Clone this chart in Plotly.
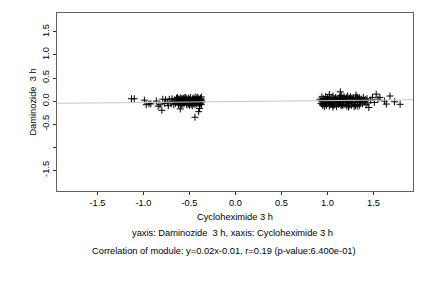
import plotly.graph_objects as go

# Left cluster (Cycloheximide 3 h vs Daminozide 3 h)
left_x = [-0.66, -0.65, -0.64, -0.63, -0.62, -0.62, -0.61, -0.60, -0.60, -0.59, -0.58, -0.57, -0.57, -0.56,
          -0.55, -0.55, -0.54, -0.53, -0.53, -0.52, -0.51, -0.51, -0.50, -0.49, -0.49, -0.48, -0.47, -0.47,
          -0.46, -0.45, -0.45, -0.44, -0.44, -0.43, -0.43, -0.42, -0.42, -0.41, -0.41, -0.40, -0.40, -0.39,
          -0.39, -0.38, -0.38, -0.37, -0.37, -0.37, -0.63, -0.58, -0.54, -0.50, -0.46, -0.68, -0.70, -0.72,
          -0.74, -0.67, -0.69,
          -0.645, -0.615, -0.585, -0.555, -0.525, -0.495, -0.465, -0.435, -0.405, -0.375, -0.635, -0.605,
          -0.575, -0.545, -0.515, -0.485, -0.455, -0.425, -0.395, -0.365, -0.655, -0.565, -0.475, -0.385,
          -1.13, -1.10, -0.99, -0.97, -0.94, -0.92, -0.86, -0.84, -0.80, -0.79, -0.60, -0.44, -0.40, -0.39,
          -0.77, -0.82, -0.76, -0.73]
left_y = [0.03, -0.05, 0.06, -0.02, 0.04, -0.08, 0.01, 0.07, -0.04, -0.09, 0.03, -0.01, 0.06, -0.06,
          0.02, 0.08, -0.03, 0.05, -0.08, 0.00, 0.06, -0.05, 0.03, -0.02, 0.08, -0.07, 0.04, -0.10,
          0.01, 0.07, -0.04, 0.03, -0.08, 0.09, -0.01, 0.05, -0.06, 0.02, 0.08, -0.03, 0.05, -0.08,
          0.01, 0.06, -0.04, 0.03, -0.07, 0.09, 0.08, -0.07, 0.07, -0.09, -0.06, 0.00, -0.06, 0.04,
          -0.02, -0.08, 0.05,
          0.00, -0.06, 0.05, -0.03, 0.02, -0.06, 0.05, 0.00, -0.05, 0.01, 0.04, 0.03,
          -0.04, 0.04, -0.07, 0.01, 0.03, -0.04, 0.04, -0.02, -0.01, 0.05, -0.01, -0.06,
          0.05, 0.05, 0.02, -0.08, -0.06, -0.06, 0.00, -0.11, -0.20, 0.04, -0.17, -0.35, -0.23, -0.16,
          -0.05, -0.08, 0.03, -0.10]

# Right cluster
right_x = [0.92, 0.93, 0.94, 0.95, 0.95, 0.96, 0.97, 0.98, 0.98, 0.99, 1.00, 1.01, 1.02, 1.02, 1.03,
           1.04, 1.05, 1.05, 1.06, 1.07, 1.08, 1.08, 1.09, 1.10, 1.10, 1.11, 1.12, 1.13, 1.13, 1.14,
           1.15, 1.16, 1.16, 1.17, 1.18, 1.18, 1.19, 1.20, 1.21, 1.21, 1.22, 1.23, 1.24, 1.24, 1.25,
           1.26, 1.27, 1.27, 1.28, 1.29, 1.30, 1.31, 1.31, 1.32, 1.33, 1.34, 1.35, 1.35, 1.36, 1.37,
           1.38, 1.39, 1.40, 1.41, 1.42, 1.43, 1.44, 0.97, 1.06, 1.15, 1.23, 1.33,
           0.935, 0.965, 0.995, 1.025, 1.055, 1.085, 1.115, 1.145, 1.175, 1.205, 1.235, 1.265, 1.295,
           1.325, 1.355, 0.945, 0.985, 1.035, 1.075, 1.125, 1.165, 1.215, 1.255, 1.305, 1.385,
           1.02, 1.14, 1.22, 1.31, 1.45, 1.49, 1.53, 1.57, 1.62, 1.64, 1.68, 1.73, 1.79, 1.47, 1.51, 1.55]
right_y = [0.04, -0.05, 0.09, -0.01, -0.10, 0.05, -0.06, 0.02, 0.10, -0.09, 0.06, -0.03, 0.08, -0.11, 0.01,
           -0.07, 0.07, -0.02, 0.11, -0.09, 0.03, -0.05, 0.08, -0.12, 0.00, 0.05, -0.07, 0.09, -0.02, 0.04,
           -0.10, 0.07, -0.04, 0.01, 0.10, -0.08, 0.04, -0.03, 0.08, -0.11, 0.02, -0.06, 0.06, -0.01, 0.09,
           -0.09, 0.03, -0.04, 0.07, -0.12, 0.00, 0.05, -0.07, 0.09, -0.03, 0.03, -0.09, 0.07, -0.01, 0.04,
           -0.06, 0.08, -0.02, 0.03, -0.08, 0.05, -0.04, -0.12, -0.13, 0.12, -0.13, -0.11,
           0.00, 0.03, -0.05, 0.04, -0.08, 0.06, -0.04, -0.07, 0.05, 0.06, -0.09, 0.06, -0.03,
           0.06, 0.02, -0.07, -0.02, -0.05, 0.00, 0.01, -0.09, -0.02, 0.01, -0.10, 0.00,
           0.145, 0.20, 0.11, 0.13, -0.14, 0.08, 0.15, 0.08, 0.00, -0.065, 0.11, -0.015, -0.07, 0.02, -0.03, 0.04]

# Regression line y = 0.02x - 0.01
slope = 0.02
intercept = -0.01
x_range = [-1.94, 1.93]
y_range = [-1.95, 1.91]

x_ticks = [-1.5, -1.0, -0.5, 0.0, 0.5, 1.0, 1.5]
x_ticktext = ["-1.5", "-1.0", "-0.5", "0.0", "0.5", "1.0", "1.5"]
y_ticks = [-1.5, -1.0, -0.5, 0.0, 0.5, 1.0, 1.5]
y_ticktext = ["-1.5", "", "-0.5", "0.0", "0.5", "1.0", "1.5"]

FONT = "Liberation Sans, Arial, sans-serif"
FS = 9.3

fig = go.Figure()
fig.add_trace(go.Scatter(
    x=left_x + right_x, y=left_y + right_y, mode="markers",
    marker=dict(symbol="cross-thin", size=5, line=dict(width=1, color="black"), color="black"),
    showlegend=False, hoverinfo="skip"))
fig.add_trace(go.Scatter(
    x=x_range, y=[slope * v + intercept for v in x_range], mode="lines",
    line=dict(color="#c8c8c8", width=1), showlegend=False, hoverinfo="skip"))

axis_common = dict(showgrid=False, zeroline=False, showline=True, mirror=True,
                   linecolor="#606060", linewidth=1, ticks="outside", ticklen=3,
                   tickcolor="#303030", tickfont=dict(family=FONT, size=FS, color="black"))

fig.update_layout(
    width=432, height=288,
    margin=dict(l=57, r=19, t=13, b=97),
    paper_bgcolor="white", plot_bgcolor="white",
    xaxis=dict(range=x_range, tickvals=x_ticks, ticktext=x_ticktext, **axis_common),
    yaxis=dict(range=y_range, tickvals=y_ticks, ticktext=y_ticktext, tickangle=-90,
               title=dict(text="Daminozide\u00a0 3 h", font=dict(family=FONT, size=FS, color="black"), standoff=3),
               **axis_common),
    font=dict(family=FONT, size=FS, color="black"),
)

notes = [("Cycloheximide 3 h", -25.5, 0),
         ("yaxis: Daminozide\u00a0 3 h, xaxis: Cycloheximide 3 h", -42, -3),
         ("Correlation of module: y=0.02x-0.01, r=0.19 (p-value:6.400e-01)", -60, -11)]
for txt, shift, xs in notes:
    fig.add_annotation(text=txt, xref="paper", yref="paper", x=0.5, y=0,
                       xanchor="center", yanchor="middle", yshift=shift, xshift=xs, showarrow=False,
                       font=dict(family=FONT, size=FS, color="black"))

fig.write_html("out.html")
